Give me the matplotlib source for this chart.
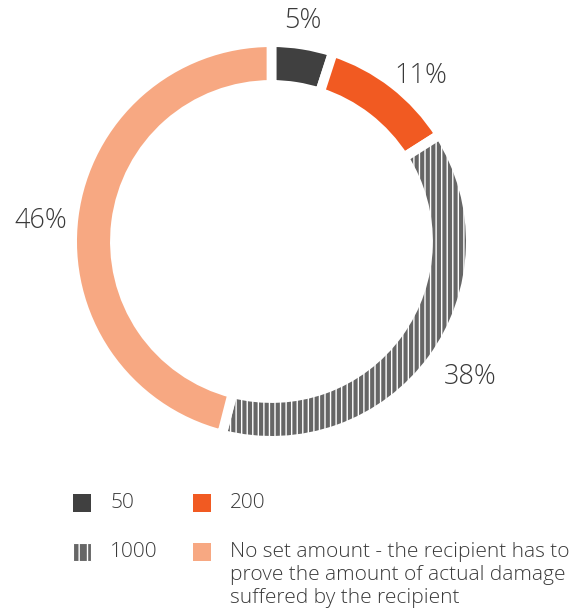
import matplotlib.pyplot as plt
from matplotlib.patches import Rectangle

plt.rcParams.update({
    "font.family": ["Open Sans", "DejaVu Sans"],
    "font.weight": "light",
    "hatch.linewidth": 1.0,
})

labels = ["50", "200", "1000",
          "No set amount - the recipient has to\nprove the amount of actual damage\nsuffered by the recipient"]
shares = [5, 11, 38, 46]
colors = ["#404040", "#f15a22", "#666666", "#f7a882"]
hatches = [None, None, "|||", None]
# where each percentage sits, in pie units
label_xy = [(0.16, 1.134), (0.768, 0.851), (1.02, -0.696), (-1.186, 0.103)]
text_col = "#3a3a3a"

fig = plt.figure(figsize=(5.77, 6.12), dpi=100)
ax = fig.add_axes([0.1334, 0.2876, 0.6742, 0.6356])

wedges, _ = ax.pie(shares, colors=colors, startangle=90, counterclock=False,
                   radius=1.025,
                   wedgeprops=dict(width=0.22, edgecolor="white", linewidth=7))
for w, h in zip(wedges, hatches):
    if h:
        w.set_hatch(h)
for s, (x, y) in zip(shares, label_xy):
    ax.text(x, y, f"{s}%", fontsize=19.5, color=text_col, ha="center", va="center")
ax.set_xlim(-1.0, 1.0)
ax.set_ylim(-1.0, 1.0)
ax.set_aspect("equal")

# legend, two columns
pos = [(73, 503), (193, 503), (73, 552), (193, 552)]
W, H = 577, 612
for (px, py), lab, c, h in zip(pos, labels, colors, hatches):
    r = Rectangle((px / W, (H - py - 9) / H), 18 / W, 18 / H, transform=fig.transFigure,
                  facecolor=c, edgecolor="white" if h else c, linewidth=0.8 if h else 0,
                  hatch="||" if h else None)
    fig.add_artist(r)
    for i, line in enumerate(lab.split("\n")):
        fig.text((px + 37) / W, (H - py - 23 * i) / H, line, fontsize=15,
                 color=text_col, va="center", ha="left")

fig.savefig("out.png", dpi=100)
